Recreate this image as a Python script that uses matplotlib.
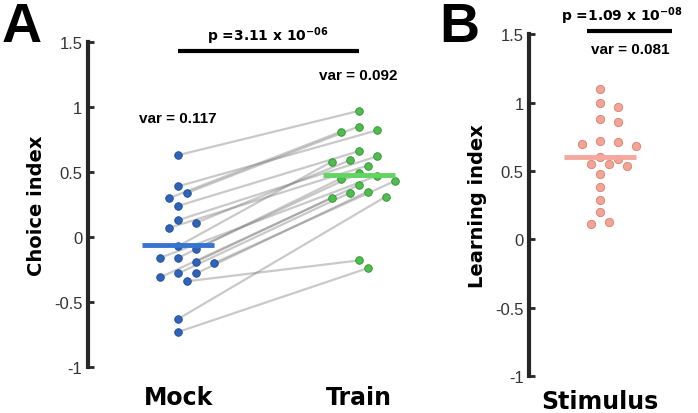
"""
Paired choice index (Mock vs Train) and learning index per stimulus.
Saves out.png.
"""

import matplotlib
matplotlib.use("Agg")
import matplotlib.pyplot as plt
import numpy as np

plt.rcParams["mathtext.default"] = "bf"

# ---------------------------------------------------------------------------
# Data
# ---------------------------------------------------------------------------

conditions = ["Mock", "Train"]
# each mock value is paired with the train value at the same index
mock_vals = [0.63, 0.39, 0.34, 0.30, 0.24, 0.13, 0.11, 0.07, -0.07, -0.09,
             -0.16, -0.20, -0.16, -0.19, -0.28, -0.28, -0.31, -0.34, -0.63, -0.73]
train_vals = [0.97, 0.82, 0.85, 0.81, 0.66, 0.62, 0.59, 0.55, 0.58, 0.49,
              0.45, 0.43, 0.47, 0.40, 0.34, 0.35, 0.30, -0.18, 0.31, -0.24]
var_labels_a = ["var = 0.117", "var = 0.092"]
p_label_a = "p =3.11 x 10$^{-06}$"

stim_label = ["Stimulus"]
learn_vals = [1.10, 1.00, 0.97, 0.88, 0.86, 0.72, 0.71, 0.70, 0.68, 0.60,
              0.59, 0.55, 0.55, 0.54, 0.48, 0.38, 0.29, 0.20, 0.13, 0.11]
var_label_b = "var = 0.081"
p_label_b = "p =1.09 x 10$^{-08}$"

yticks = [-1, -0.5, 0, 0.5, 1, 1.5]
ytick_labels = ["-1", "-0.5", "0", "0.5", "1", "1.5"]

BLUE, BLUE_EDGE, BLUE_BAR = "#2f63b8", "#1d4a94", "#3674d0"
GREEN, GREEN_EDGE, GREEN_BAR = "#4dbd4d", "#2f8f2f", "#62d462"
PINK, PINK_EDGE, PINK_BAR = "#f2a497", "#d8806f", "#f5a89d"
AXIS_COL = "#262626"


def swarm_offsets(values, px_per_y, px_per_x, diam=11.0, step=9.0):
    """Simple beeswarm: returns x offsets (data units) so dots don't overlap."""
    order = np.argsort(values)[::-1]
    placed = []
    offsets = np.zeros(len(values))
    for i in order:
        y = values[i] * px_per_y
        k = 0
        while True:
            for cand in ([0.0] if k == 0 else [k * step, -k * step]):
                if all((cand - px) ** 2 + (y - py) ** 2 >= diam ** 2 for px, py in placed):
                    placed.append((cand, y))
                    offsets[i] = cand / px_per_x
                    break
            else:
                k += 1
                continue
            break
    return offsets


def style_axis(ax, ylabel, xpad):
    for side in ["top", "right", "bottom"]:
        ax.spines[side].set_visible(False)
    ax.spines["left"].set_linewidth(3)
    ax.spines["left"].set_color(AXIS_COL)
    ax.spines["left"].set_bounds(-1, 1.5)
    ax.set_ylim(-1, 1.5)
    ax.set_yticks(yticks)
    ax.set_yticklabels(ytick_labels, fontfamily="Liberation Sans", fontsize=12, color="#333333")
    ax.tick_params(axis="y", direction="in", length=4, width=2, color=AXIS_COL, pad=4)
    ax.tick_params(axis="x", length=0, pad=xpad)
    for lab in ax.get_xticklabels():
        lab.set_fontfamily("DejaVu Sans")
        lab.set_fontweight("bold")
        lab.set_fontsize(17)
    ax.set_ylabel(ylabel, fontfamily="DejaVu Sans", fontweight="bold", fontsize=14, labelpad=6)
    ax.patch.set_alpha(0)


fig = plt.figure(figsize=(6.98, 4.14), dpi=100)

# ---------------------------------------------------------------------------
# Panel A
# ---------------------------------------------------------------------------
ax_a = fig.add_axes([0.126, 0.111, 0.517, 0.785])
ax_a.set_xlim(0.5, 2.5)
ax_a.set_xticks([1, 2])
ax_a.set_xticklabels(conditions)

px_y_a, px_x_a = 130.0, 180.7
mock = np.array(mock_vals)
train = np.array(train_vals)
x_mock = 1 + swarm_offsets(mock, px_y_a, px_x_a)
x_train = 2 + swarm_offsets(train, px_y_a, px_x_a)

for xm, ym, xt, yt in zip(x_mock, mock, x_train, train):
    ax_a.plot([xm, xt], [ym, yt], color="#7a7a7a", alpha=0.4, lw=1.6, zorder=1)

ax_a.scatter(x_mock, mock, s=30, color=BLUE, edgecolors=BLUE_EDGE, linewidths=0.6, zorder=3)
ax_a.scatter(x_train, train, s=30, color=GREEN, edgecolors=GREEN_EDGE, linewidths=0.6, zorder=3)
ax_a.plot([0.8, 1.2], [mock.mean()] * 2, color=BLUE_BAR, lw=3.5, zorder=4, solid_capstyle="butt")
ax_a.plot([1.8, 2.2], [train.mean()] * 2, color=GREEN_BAR, lw=3.5, zorder=4, solid_capstyle="butt")

ax_a.plot([1, 2], [1.43, 1.43], color="black", lw=3, clip_on=False, solid_capstyle="butt")
ax_a.text(1.5, 1.47, p_label_a, ha="center", va="bottom", fontfamily="DejaVu Sans",
          fontweight="bold", fontsize=10)
ax_a.text(1, 0.915, var_labels_a[0], ha="center", va="center", fontfamily="Liberation Sans",
          fontweight="bold", fontsize=11)
ax_a.text(2, 1.25, var_labels_a[1], ha="center", va="center", fontfamily="Liberation Sans",
          fontweight="bold", fontsize=11)
style_axis(ax_a, "Choice index", xpad=13)

# ---------------------------------------------------------------------------
# Panel B
# ---------------------------------------------------------------------------
ax_b = fig.add_axes([0.758, 0.089, 0.218, 0.826])
ax_b.set_xlim(0.607, 1.45)
ax_b.set_xticks([1])
ax_b.set_xticklabels(stim_label)

learn = np.array(learn_vals)
x_learn = 1 + swarm_offsets(learn, 137.0, 180.7, diam=10.5)
ax_b.scatter(x_learn, learn, s=36, color=PINK, edgecolors=PINK_EDGE, linewidths=0.6, zorder=3)
ax_b.plot([0.8, 1.2], [learn.mean()] * 2, color=PINK_BAR, lw=3.5, zorder=4, solid_capstyle="butt")

ax_b.plot([0.93, 1.40], [1.52, 1.52], color="black", lw=3, clip_on=False, solid_capstyle="butt")
ax_b.text(1.12, 1.56, p_label_b, ha="center", va="bottom", fontfamily="DejaVu Sans",
          fontweight="bold", fontsize=10, clip_on=False)
ax_b.text(1.165, 1.39, var_label_b, ha="center", va="center", fontfamily="Liberation Sans",
          fontweight="bold", fontsize=11)
style_axis(ax_b, "Learning index", xpad=9)

# panel letters
fig.text(0.002, 0.995, "A", ha="left", va="top", fontfamily="Liberation Sans",
         fontweight="bold", fontsize=40)
fig.text(0.630, 0.995, "B", ha="left", va="top", fontfamily="Liberation Sans",
         fontweight="bold", fontsize=40)

fig.savefig("out.png", dpi=100)
